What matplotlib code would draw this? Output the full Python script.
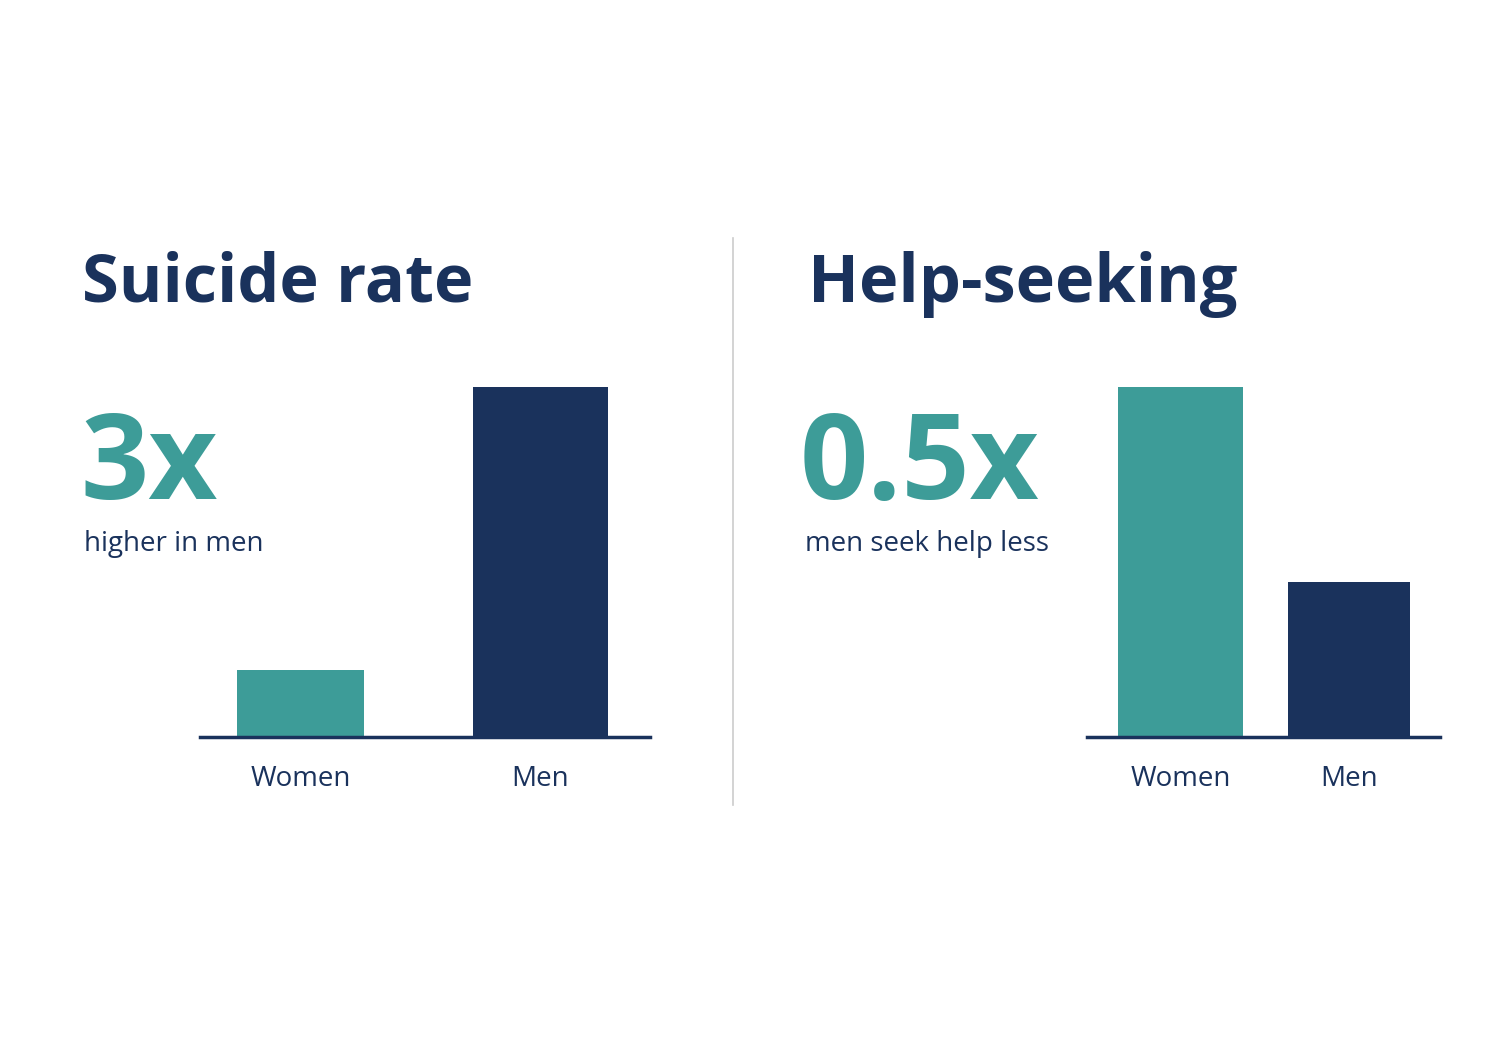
import matplotlib
matplotlib.use('Agg')
import matplotlib.pyplot as plt

categories = ['Women', 'Men']
suicide_values = [67, 350]
help_values = [350, 155]

TEAL = '#3d9c98'
NAVY = '#1a325c'
W, H = 1491, 1055

plt.rcParams['font.family'] = ['Open Sans', 'DejaVu Sans']

fig = plt.figure(figsize=(W / 100, H / 100), dpi=100)
fig.patch.set_facecolor('white')


def px_axes(x0, x1, ytop, ybase):
    return fig.add_axes([x0 / W, 1 - ybase / H, (x1 - x0) / W, (ybase - ytop) / H])


def bar_panel(ax, values, xlim, widths):
    ax.bar(range(len(categories)), values, width=widths, color=[TEAL, NAVY])
    ax.set_xlim(*xlim)
    ax.set_ylim(0, 350)
    ax.set_xticks(range(len(categories)))
    ax.set_xticklabels(categories, fontsize=20, color=NAVY)
    ax.tick_params(axis='x', length=0, pad=20)
    ax.set_yticks([])
    for s in ['top', 'right', 'left']:
        ax.spines[s].set_visible(False)
    ax.spines['bottom'].set_color(NAVY)
    ax.spines['bottom'].set_linewidth(2.5)
    ax.patch.set_alpha(0)


ax1 = px_axes(200, 650, 387, 737)
bar_panel(ax1, suicide_values, (-0.419, 1.456), [0.53, 0.563])
ax2 = px_axes(1087, 1440, 387, 737)
bar_panel(ax2, help_values, (-0.555, 1.54), [0.74, 0.725])

# titles and key figures
fig.text(82 / W, 1 - 284 / H, 'Suicide rate', fontsize=48, fontweight='bold', color=NAVY, va='center')
fig.text(808 / W, 1 - 284 / H, 'Help-seeking', fontsize=48, fontweight='bold', color=NAVY, va='center')
fig.text(80 / W, 1 - 499 / H, '3x', fontsize=86, fontweight='bold', color=TEAL, va='baseline')
fig.text(800 / W, 1 - 499 / H, '0.5x', fontsize=86, fontweight='bold', color=TEAL, va='baseline')
fig.text(84 / W, 1 - 544 / H, 'higher in men', fontsize=20, color=NAVY, va='center')
fig.text(805 / W, 1 - 544 / H, 'men seek help less', fontsize=20, color=NAVY, va='center')

# divider
fig.add_artist(plt.Line2D([733 / W, 733 / W], [1 - 238 / H, 1 - 805 / H], color='#cccccc', lw=1.2))

fig.savefig('out.png', dpi=100, facecolor='white')
